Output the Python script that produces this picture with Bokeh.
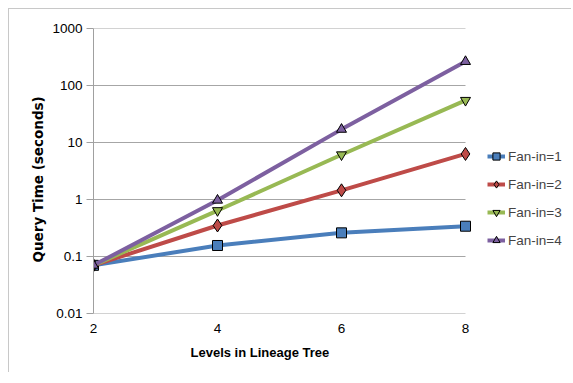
from bokeh.plotting import figure
from bokeh.models import FixedTicker, CustomJSTickFormatter, Legend, LegendItem, Title, Range1d
from bokeh.embed import file_html
from bokeh.resources import INLINE

levels = [2, 4, 6, 8]
fanin1 = [0.07, 0.156, 0.26, 0.34]
fanin2 = [0.07, 0.35, 1.45, 6.3]
fanin3 = [0.07, 0.64, 6.1, 55]
fanin4 = [0.07, 0.97, 17, 263]
series_names = ["Fan-in=1", "Fan-in=2", "Fan-in=3", "Fan-in=4"]
x_ticks = [2, 4, 6, 8]
y_ticks = [0.01, 0.1, 1, 10, 100, 1000]
x_title = "Levels in Lineage Tree"
y_title = "Query Time (seconds)"

colors = ["#4A7EBB", "#BE4B48", "#98B954", "#7D60A0"]
markers = ["square", "diamond", "inverted_triangle", "triangle"]
sizes = [10, 13, 10, 10]

W, H = 563, 364
BL, BT, BB = 84, 19, 60
px_per_unit = 62
x_end = x_ticks[0] + (W - BL) / px_per_unit

p = figure(width=W, height=H, y_axis_type="log",
           x_range=Range1d(x_ticks[0], x_end), y_range=Range1d(y_ticks[0], y_ticks[-1]),
           output_backend="svg", toolbar_location=None,
           min_border_left=BL, min_border_right=0, min_border_top=BT, min_border_bottom=BB)
p.outline_line_color = None
p.margin = (8, 0, 0, 8)
p.styles = {"border-top": "1px solid #c8c8c8", "border-left": "1px solid #c8c8c8"}

font = "Liberation Sans"

p.xaxis.ticker = FixedTicker(ticks=x_ticks)
p.yaxis.ticker = FixedTicker(ticks=y_ticks, minor_ticks=[])
p.yaxis.formatter = CustomJSTickFormatter(code="return Number(tick.toPrecision(3)).toString();")
for ax in (p.xaxis, p.yaxis):
    ax.axis_line_color = "#a0a0a0"
    ax.major_tick_line_color = "#a0a0a0"
    ax.minor_tick_line_color = None
    ax.major_tick_in = 0
    ax.major_label_text_font = font
    ax.major_label_text_font_size = "13.5px"
    ax.major_label_text_color = "#000000"
p.xaxis.axis_line_color = None
p.xaxis.major_tick_out = 0
p.xaxis.major_label_standoff = 10
p.yaxis.major_tick_out = 7
p.yaxis.major_label_standoff = 4

p.xgrid.grid_line_color = None
p.ygrid.grid_line_color = None
# horizontal gridlines (and the bottom axis line) spanning only the data range 2..8
p.segment(x0=[x_ticks[0]] * len(y_ticks), x1=[x_ticks[-1]] * len(y_ticks),
          y0=y_ticks, y1=y_ticks, line_color="#a6a6a6", line_width=1)

series = [fanin1, fanin2, fanin3, fanin4]
items = []
for name, vals, c, m, s in zip(series_names, series, colors, markers, sizes):
    r1 = p.line(levels, vals, line_color=c, line_width=4)
    r2 = p.scatter(levels, vals, marker=m, size=s, fill_color=c, line_color="#000000", line_width=1)
    items.append(LegendItem(label=name, renderers=[r1, r2]))

legend = Legend(items=items, location=(394, 63), padding=0, margin=0,
                border_line_color=None, background_fill_alpha=0,
                glyph_width=18, glyph_height=20, label_height=20, spacing=8,
                label_standoff=3, label_text_font=font, label_text_font_size="13.5px")
p.add_layout(legend, "center")

p.add_layout(Title(text=x_title, align="left", offset=97, standoff=14,
                   text_font=font, text_font_style="bold", text_font_size="13px",
                   text_color="#000000"), "below")
p.add_layout(Title(text=y_title, align="left", offset=51, standoff=8,
                   text_font="DejaVu Sans", text_font_style="bold", text_font_size="13.5px",
                   text_color="#000000"), "left")

open("out.html", "w").write(file_html(p, INLINE))
